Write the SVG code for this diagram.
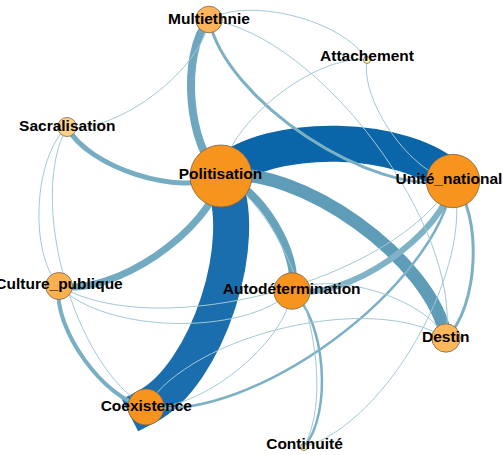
<svg xmlns="http://www.w3.org/2000/svg" width="503" height="455" viewBox="0 0 503 455">
<style>
.e{fill:none;stroke-linecap:butt}
.big{stroke-linecap:square}
.thin{stroke:#a3c8d5;stroke-width:1}
.mid{stroke:#7cb0c5}
.n{stroke:#7d6446;stroke-width:0.8}
.hub{fill:#f7941d}
.lbl{font-family:"Liberation Sans",Arial,sans-serif;font-weight:bold;font-size:15.5px;fill:#000;text-anchor:middle}
</style>
<rect width="503" height="455" fill="#ffffff"/>
<g id="edges">
<path class="e big" d="M221,176 C268.4,130.6 407.6,133.6 453,181" stroke="#0b66a9" stroke-width="36"/>
<path class="e big" d="M221,176 C252.2,237.2 207.2,375.8 146,407" stroke="#1a6ead" stroke-width="36"/>
<path class="e" d="M221,176 C298.4,163.4 433.4,260.6 446,338" stroke="#5e9cb8" stroke-width="13"/>
<path class="e" d="M221,176 C258.2,184.8 300.8,253.8 292,291" stroke="#68a3bc" stroke-width="8"/>
<path class="e" d="M221,176 C187.3,147.1 180.1,53.2 209,19.5" stroke="#6ea7bf" stroke-width="8"/>
<path class="e" d="M221,176 C210.6,230.4 113.4,296.4 59,286" stroke="#72aac1" stroke-width="7"/>
<path class="e" d="M453,181 C442.8,235.2 346.2,301.2 292,291" stroke="#80b3c7" stroke-width="6"/>
<path class="e" d="M221,176 C180.4,197 88,167.6 67,127" stroke="#77adc3" stroke-width="5"/>
<path class="e" d="M146,407 C104.4,400.2 52.2,327.6 59,286" stroke="#79afc4" stroke-width="4"/>
<path class="e mid" d="M453,181 C371.9,197.5 225.5,100.6 209,19.5" stroke-width="3"/>
<path class="e mid" d="M453,181 C483,213.8 478.8,308 446,338" stroke-width="3"/>
<path class="e mid" d="M453,181 C436.8,287.6 252.6,423.2 146,407" stroke-width="2.5"/>
<path class="e mid" d="M292,291 C325.6,319.8 332.8,413.4 304,447" stroke-width="2.5"/>
<path class="e thin" d="M292,291 C244.4,336.6 104.6,333.6 59,286" stroke-width="1.3"/>
<path class="e thin" d="M146,407 C192.2,333.2 372.2,291.8 446,338" stroke-width="1.3"/>
<path class="e thin" d="M209,19.5 C248.7,-4 343.5,20.3 367,60"/>
<path class="e thin" d="M453,181 C411.6,174 360,101.4 367,60"/>
<path class="e thin" d="M209,19.5 C320.1,35.8 462.3,226.9 446,338"/>
<path class="e thin" d="M209,19.5 C202.1,69.4 116.9,133.9 67,127"/>
<path class="e thin" d="M221,176 C227,123.6 314.6,54 367,60"/>
<path class="e thin" d="M59,286 C28.8,252.6 33.6,157.2 67,127"/>
<path class="e thin" d="M146,407 C74.2,366.8 26.8,198.8 67,127"/>
<path class="e thin" d="M453,181 C395.2,280.8 158.8,343.8 59,286"/>
<path class="e thin" d="M292,291 C286,343.4 198.4,413 146,407"/>
<path class="e thin" d="M292,291 C332.2,269.6 424.6,297.8 446,338"/>
<path class="e thin" d="M221,176 C291.8,213.6 341.6,376.2 304,447"/>
<path class="e thin" d="M453,181 C476.4,264 387,423.6 304,447"/>
</g>
<g id="node-attachement"><circle class="n" cx="367" cy="60" r="3.5" fill="#fbf7b3"/><text class="lbl" x="367" y="61">Attachement</text></g>
<g id="node-continuite"><circle class="n" cx="304" cy="447" r="3.5" fill="#f9f5c6"/><text class="lbl" x="304.5" y="449.3">Continuité</text></g>
<g id="node-sacralisation"><circle class="n" cx="67" cy="127" r="9.5" fill="#fdd18a"/><text class="lbl" x="67.3" y="130.7">Sacralisation</text></g>
<g id="node-multiethnie"><circle class="n" cx="209" cy="19.5" r="13.3" fill="#fdb45a"/><text class="lbl" x="209" y="24">Multiethnie</text></g>
<g id="node-culture_publique"><circle class="n" cx="59" cy="286" r="13.5" fill="#fbb150"/><text class="lbl" x="59" y="289.3">Culture_publique</text></g>
<g id="node-destin"><circle class="n" cx="446" cy="338" r="14.2" fill="#fdb85c"/><text class="lbl" x="445.7" y="341.7">Destin</text></g>
<g id="node-coexistence"><circle class="n hub" cx="146" cy="407" r="18"/><text class="lbl" x="146.3" y="410.7">Coexistence</text></g>
<g id="node-autodetermination"><circle class="n hub" cx="292" cy="291" r="18.2"/><text class="lbl" x="291.7" y="294">Autodétermination</text></g>
<g id="node-unite_national"><circle class="n hub" cx="453" cy="181" r="26.7"/><text class="lbl" x="449" y="184.3">Unité_national</text></g>
<g id="node-politisation"><circle class="n hub" cx="221" cy="176" r="31"/><text class="lbl" x="220.5" y="179.3">Politisation</text></g>
</svg>
